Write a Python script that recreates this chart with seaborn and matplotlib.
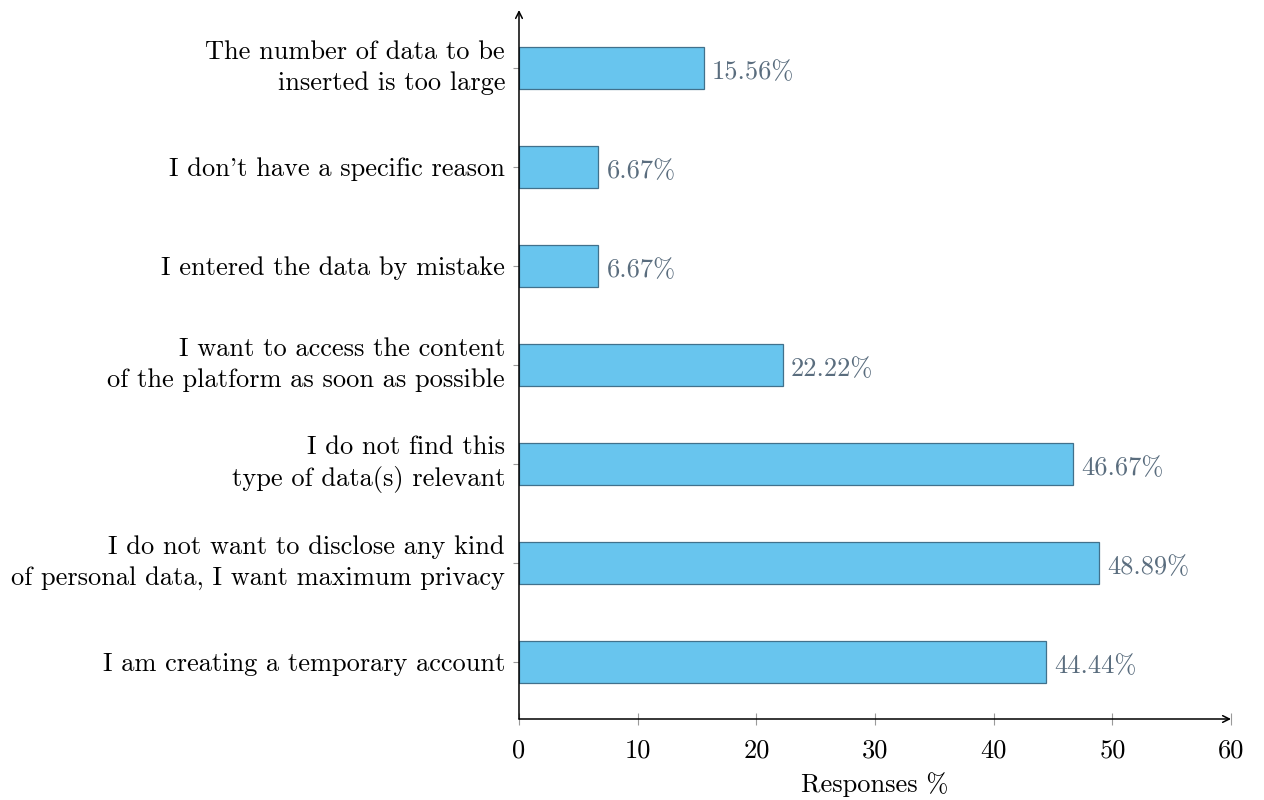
import matplotlib
matplotlib.use("Agg")
import matplotlib.pyplot as plt
import seaborn as sns
import pandas as pd

reasons = [
    "The number of data to be\ninserted is too large",
    "I don't have a specific reason",
    "I entered the data by mistake",
    "I want to access the content\nof the platform as soon as possible",
    "I do not find this\ntype of data(s) relevant",
    "I do not want to disclose any kind\nof personal data, I want maximum privacy",
    "I am creating a temporary account",
]
responses = [15.56, 6.67, 6.67, 22.22, 46.67, 48.89, 44.44]
x_ticks = [0, 10, 20, 30, 40, 50, 60]

sns.set_theme(style="white")
plt.rcParams["font.family"] = ["cmr10", "DejaVu Serif"]
plt.rcParams["axes.formatter.use_mathtext"] = True
plt.rcParams["mathtext.fontset"] = "cm"
plt.rcParams["text.color"] = "black"
plt.rcParams["axes.labelcolor"] = "black"
plt.rcParams["xtick.labelcolor"] = "black"
plt.rcParams["ytick.labelcolor"] = "black"

FS = 19

df = pd.DataFrame({"reason": reasons, "pct": responses})

fig = plt.figure(figsize=(12.64, 8.0), dpi=100)
ax = fig.add_axes([0.4106, 0.10125, 0.5633, 0.88625])

sns.barplot(data=df, x="pct", y="reason", orient="h", ax=ax,
            color="#68C5EE", saturation=1, width=0.43,
            edgecolor="#41718C", linewidth=0.9)

ax.set_xlim(0, 60)
ax.set_ylim(6.576, -0.586)
ax.set_xticks(x_ticks)
ax.set_xticklabels([str(t) for t in x_ticks])

labels = ax.bar_label(ax.containers[0],
                      labels=[f"{v:.2f}%" for v in responses],
                      padding=6, fontsize=FS, color="#5A6D7E")
for lab in labels:
    lab.xyann = (6, -3)

ax.set_xlabel("Responses %", fontsize=FS, labelpad=7)
ax.set_ylabel("")

ax.tick_params(axis="y", which="major", direction="out", length=4,
               width=0.8, color="#9A9A9A", pad=6, labelsize=FS, left=True)
ax.tick_params(axis="x", which="major", direction="inout", length=8,
               width=0.8, color="#9A9A9A", pad=10, labelsize=FS, bottom=True)
for t in ax.get_yticklabels():
    t.set_linespacing(1.38)
    if "\n" in t.get_text():
        t.set_verticalalignment("center")

for side in ["top", "right", "left", "bottom"]:
    ax.spines[side].set_visible(False)

# axis lines with arrow heads
ax.annotate("", xy=(1.0, 0.0), xytext=(0.0, 0.0), xycoords="axes fraction",
            arrowprops=dict(arrowstyle="->", lw=1.1, color="black",
                            shrinkA=0, shrinkB=0, mutation_scale=12))
ax.annotate("", xy=(0.0, 1.0), xytext=(0.0, 0.0), xycoords="axes fraction",
            arrowprops=dict(arrowstyle="->", lw=1.1, color="black",
                            shrinkA=0, shrinkB=0, mutation_scale=12))

fig.savefig("out.png", dpi=100, facecolor="white")
